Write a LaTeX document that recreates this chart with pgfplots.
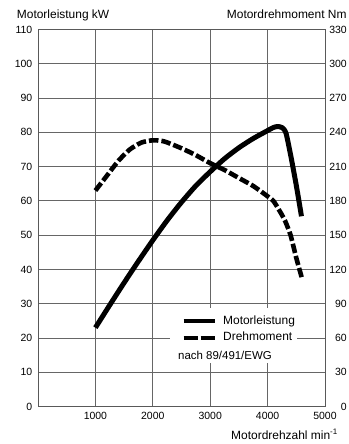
\documentclass[border=0pt]{standalone}
\usepackage{fontspec}
\setmainfont{Liberation Sans}
\usepackage{pgfplots}
\pgfplotsset{compat=1.18}
\begin{document}
\begin{tikzpicture}
\path[use as bounding box] (0,0) rectangle (349bp,444bp);
\begin{axis}[
  at={(38bp,37.5bp)}, anchor=south west,
  scale only axis, width=287bp, height=377bp,
  xmin=0, xmax=5000, ymin=0, ymax=110,
  xtick={1000,2000,3000,4000,5000},
  ytick={0,10,...,110},
  grid=major,
  major grid style={draw=black!60, line width=0.8bp},
  axis line style={draw=black!65, line width=0.9bp},
  major tick length=0pt,
  tick label style={font=\fontsize{10.5}{12}\selectfont, inner sep=0pt},
  /pgf/number format/assume math mode=true,
  /pgf/number format/1000 sep={},
  xticklabel style={anchor=north, yshift=-5.5bp},
  yticklabel style={anchor=east, xshift=-5.5bp},
  clip=false,
]
\fill[white] (axis cs:2300,12.7) rectangle (axis cs:4510,28.7);
\addplot[black, line width=5bp, line join=round, line cap=butt, smooth, tension=0.4] coordinates {
(1000,23) (1250,29.6) (1500,36.1) (1750,42.4) (2000,48.5) (2250,54.3)
(2500,59.6) (2750,64.4) (3000,68.5) (3250,72.3) (3500,75.5) (3750,78.2)
(4000,80.5) (4100,81.4) (4180,81.7) (4260,81.3) (4320,79.8) (4400,73.5)
(4500,64.5) (4590,55.5)};
\end{axis}
\begin{axis}[
  at={(38bp,37.5bp)}, anchor=south west,
  scale only axis, width=287bp, height=377bp,
  xmin=0, xmax=5000, ymin=0, ymax=330,
  hide x axis,
  axis line style={draw=none},
  ytick={0,30,...,330},
  ytick pos=right, yticklabel pos=right,
  major tick length=0pt,
  tick label style={font=\fontsize{10.5}{12}\selectfont, inner sep=0pt},
  /pgf/number format/assume math mode=true,
  yticklabel style={anchor=east, xshift=22bp},
  clip=false,
  legend style={at={(axis description cs:0.5006,0.2436)}, anchor=north west,
    draw=none, fill=none, inner sep=0pt, outer sep=0pt, row sep=3.7bp,
    column sep=6bp, font=\fontsize{12}{14}\selectfont,
    nodes={inner sep=0.5bp, text height=9bp, text depth=3bp}},
  legend cell align=left,
  legend image code/.code={\draw[#1] (0bp,0bp) -- (31bp,0bp);},
]
\addlegendimage{black, line width=4bp}
\addlegendentry{Motorleistung}
\addplot[forget plot, black, line width=4.6bp, line join=round, dash pattern=on 9.5bp off 3bp, smooth, tension=0.4] coordinates {
(1000,189) (1200,202) (1400,215) (1600,225) (1800,231) (2000,233)
(2200,232) (2500,226) (2750,220) (3000,213) (3250,207) (3500,200)
(3750,193) (4000,184) (4100,180) (4200,172) (4300,163) (4400,150)
(4500,130) (4600,112)};
\addlegendimage{black, line width=4bp, dash pattern=on 14bp off 3bp}
\addlegendentry{Drehmoment}
\end{axis}
\node[anchor=base west, inner sep=0pt, font=\fontsize{11.5}{13}\selectfont] at (178bp,84bp) {nach 89/491/EWG};
\node[anchor=base west, inner sep=0pt, font=\fontsize{12}{14}\selectfont] at (16.7bp,425.7bp) {Motorleistung kW};
\node[anchor=base east, inner sep=0pt, font=\fontsize{12}{14}\selectfont] at (346.7bp,425.7bp) {Motordrehmoment Nm};
\node[anchor=base east, inner sep=0pt, font=\fontsize{12}{14}\selectfont] at (338bp,5bp) {Motordrehzahl min\textsuperscript{-1}};
\end{tikzpicture}
\end{document}
